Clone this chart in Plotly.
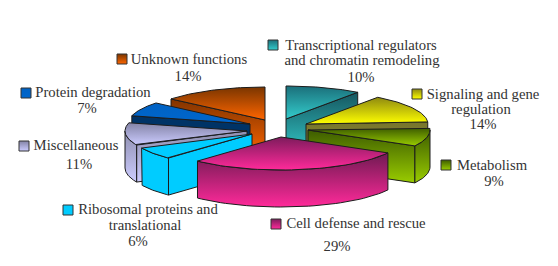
import numpy as np
import plotly.graph_objects as go

# ---- data
categories = ["Transcriptional regulators", "Signaling and gene", "Metabolism", "Cell defense and rescue",
              "Ribosomal proteins and", "Miscellaneous", "Protein degradation", "Unknown functions"]
second_lines = ["and chromatin remodeling", "regulation", "", "", "translational", "", "", ""]
values = [10, 14, 9, 29, 6, 11, 7, 14]

# ---- geometry / style (pixels)
CX, CY, RX, RY, DEPTH = 277, 127, 122, 33, 37
off_x = [9, 29, 31, 4, -25, -30, -27, -12]
off_y = [-8, -3, 3, 10, 7, 4, -3, -7]
top_dark = ["#1b6f7a", "#8f8a10", "#3d5c00", "#7d1b5c", "#00ccff", "#8383a6", "#0062c4", "#7a3500"]
top_light = ["#33cccc", "#ffff00", "#99cc00", "#ff2a9a", "#00ccff", "#ccccff", "#0066cc", "#ff6600"]
side_dark = ["#16565f", "#77752c", "#3d5c00", "#6f1a52", "#00ccff", "#8f8fb0", "#003366", "#803300"]
side_light = ["#33cccc", "#8f8d3a", "#99cc00", "#ff2a9a", "#00ccff", "#ccccff", "#003366", "#ff6600"]
draw_order = [7, 0, 6, 1, 5, 2, 4, 3]
EDGE = "#1c1c1c"

swatch_x = [273, 417, 446, 276, 68, 24, 26, 122]
swatch_y = [45, 94, 165, 224, 210, 146, 93, 59]
line1_x = [361, 483, 492, 356, 148, 76, 93, 189]
line1_y = [46, 95, 166, 224, 210, 146, 93, 60]
line2_x = [362, 481, 0, 0, 145, 0, 0, 0]
line2_y = [61, 110, 0, 0, 226, 0, 0, 0]
pct_x = [361, 483, 494, 337, 138, 79, 87, 188]
pct_y = [78, 125, 182, 247, 242, 165, 109, 77]
TEXT = "#333333"
FONT = "Liberation Serif"
FS = 14.7

fig = go.Figure()


def poly(xs, ys, c0, c1):
    ys = np.asarray(ys, float)
    fig.add_trace(go.Scatter(
        x=xs, y=ys, mode="lines", line=dict(color=EDGE, width=1), hoverinfo="skip",
        fill="toself",
        fillgradient=dict(type="vertical", colorscale=[[0, c0], [1, c1]],
                          start=float(ys.min()), stop=float(ys.max())),
        showlegend=False))


edges = np.cumsum([0] + values) / sum(values) * 2 * np.pi
for i in draw_order:
    a0, a1 = edges[i], edges[i + 1]
    ax, ay = CX + off_x[i], CY + off_y[i]
    rimx = lambda a: ax + RX * np.sin(a)
    rimy = lambda a: ay - RY * np.cos(a)
    # radial cut faces, only those turned toward the viewer
    for a, show in ((a0, np.sin(a0) < 0), (a1, np.sin(a1) > 0)):
        if show:
            poly([ax, rimx(a), rimx(a), ax, ax],
                 [ay, rimy(a), rimy(a) + DEPTH, ay + DEPTH, ay], side_dark[i], side_light[i])
    # outer wall, only where it faces the viewer
    lo, hi = max(a0, np.pi / 2), min(a1, 3 * np.pi / 2)
    if hi > lo:
        t = np.linspace(lo, hi, 40)
        poly(np.r_[rimx(t), rimx(t[::-1]), rimx(t[0])],
             np.r_[rimy(t), rimy(t[::-1]) + DEPTH, rimy(t[0])], side_dark[i], side_light[i])
    # top face
    t = np.linspace(a0, a1, 40)
    poly(np.r_[ax, rimx(t), ax], np.r_[ay, rimy(t), ay], top_dark[i], top_light[i])

# legend-like swatches
fig.add_trace(go.Scatter(
    x=swatch_x, y=swatch_y, mode="markers", hoverinfo="skip", showlegend=False,
    marker=dict(symbol="square", size=10, color=top_dark,
                gradient=dict(type="vertical", color=top_light),
                line=dict(color="#333333", width=1))))

# labels
tx, ty, tt = [], [], []
for i, c in enumerate(categories):
    tx.append(line1_x[i]); ty.append(line1_y[i]); tt.append(c)
    if second_lines[i]:
        tx.append(line2_x[i]); ty.append(line2_y[i]); tt.append(second_lines[i])
    tx.append(pct_x[i]); ty.append(pct_y[i]); tt.append(f"{values[i]}%")
fig.add_trace(go.Scatter(x=tx, y=ty, text=tt, mode="text", textposition="middle center",
                         textfont=dict(family=FONT, size=FS, color=TEXT),
                         hoverinfo="skip", showlegend=False))

fig.update_layout(width=558, height=266, margin=dict(l=0, r=0, t=0, b=0),
                  paper_bgcolor="white", plot_bgcolor="white",
                  xaxis=dict(range=[0, 558], visible=False, fixedrange=True),
                  yaxis=dict(range=[266, 0], visible=False, fixedrange=True))
fig.write_html("out.html", config=dict(displayModeBar=False),
               post_script="document.body.style.margin='0';")
